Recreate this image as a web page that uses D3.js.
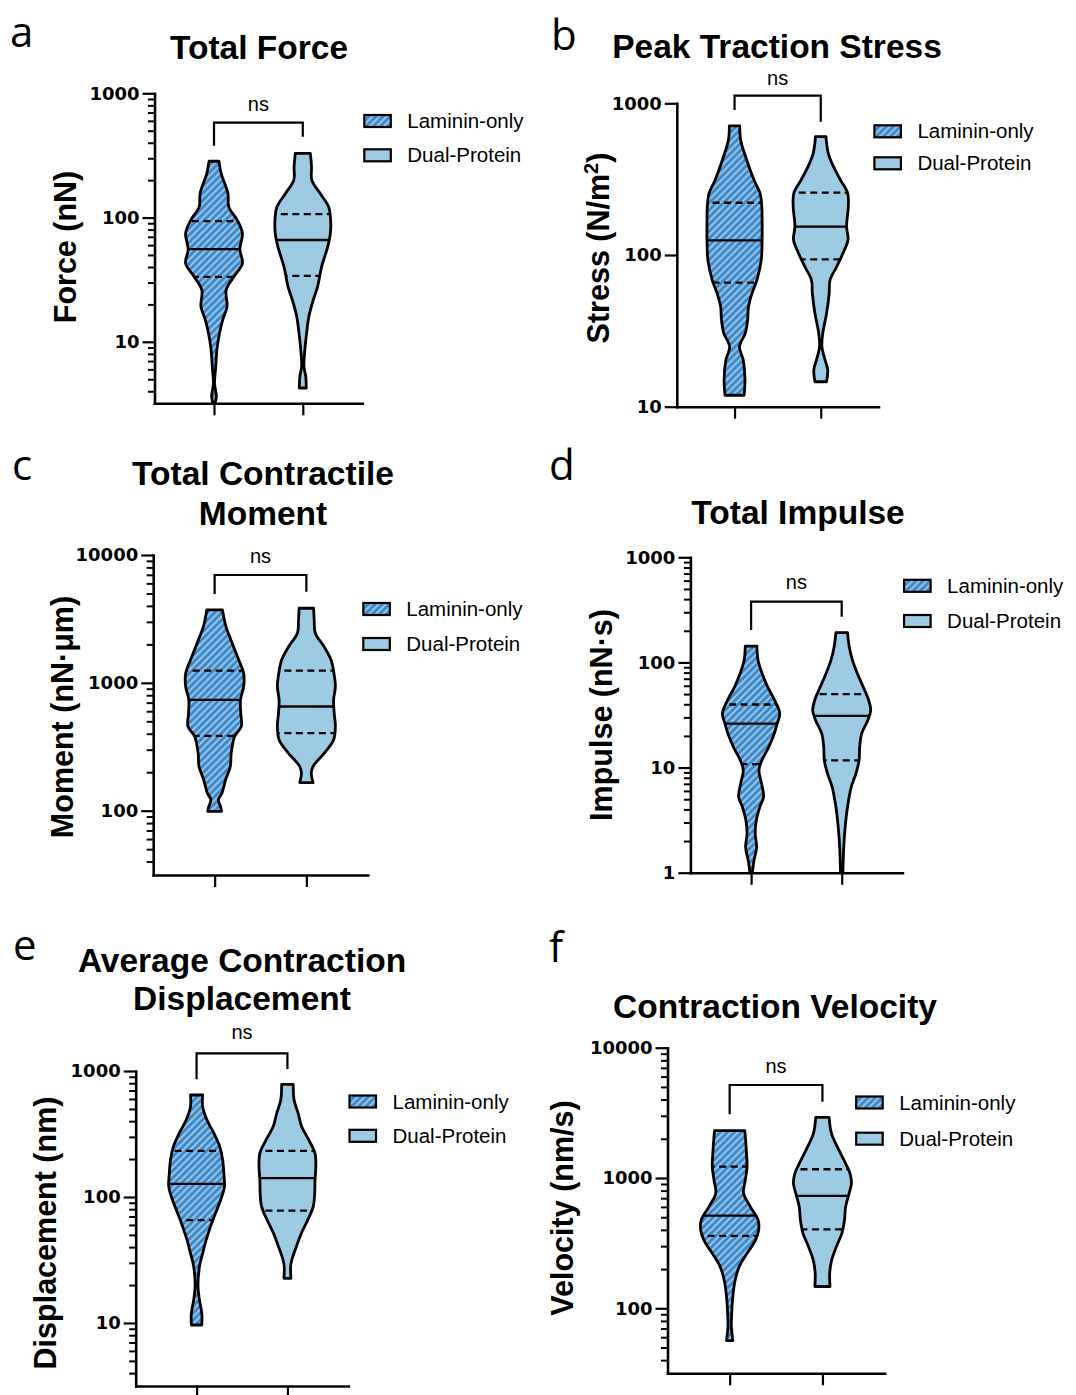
<!DOCTYPE html>
<meta charset="utf-8">
<script src="https://cdn.jsdelivr.net/npm/d3@7"></script>
<style>
  body { margin: 0; background: #fff; }
  .axis path, .axis line { stroke: #000; }
  .axis text { font-family: "DejaVu Sans", sans-serif; font-weight: bold; font-size: 18px; fill: #000; }
</style>
<body>
<script>

var groups = ["Laminin-only", "Dual-Protein"]

// violin outlines: [value, relative half-width]
var forceLam = [[284,.17],[226,.25],[156,.48],[122,.51],[95.5,.80],[74.6,.98],[55.5,.89],[42.9,.98],[33.5,.69],[26.2,.42],[19.2,.45],[15.0,.30],[11.7,.19],[8.6,.10],[6.3,.06],[4.66,.02],[3.64,.08],[3.21,.04]]
var forceDual = [[328,.26],[256,.30],[200,.31],[156,.60],[122,.89],[95.5,.96],[74.6,.95],[58.3,.86],[40.3,.65],[27.8,.51],[21.7,.36],[16.0,.21],[11.7,.13],[8.6,.07],[6.3,.04],[5.3,.10],[4.25,.12]]
var stressLam = [[709,.18],[573,.21],[423,.42],[312,.67],[255,.88],[208,.94],[170,.95],[126,.95],[92.7,.92],[68.4,.77],[55.8,.60],[45.6,.48],[37.2,.45],[30.5,.37],[24.9,.17],[20.3,.30],[15.0,.36],[11.9,.33]]
var stressDual = [[603,.18],[468,.26],[382,.44],[312,.68],[255,.93],[208,.95],[154,.89],[126,.94],[103,.77],[83.8,.55],[68.4,.32],[55.8,.29],[41.2,.20],[30.5,.07],[24.9,.04],[20.3,.15],[17.5,.24],[14.6,.20]]
var momentLam = [[3720,.27],[2754,.39],[2168,.56],[1513,.83],[1191,1],[936,1],[737,.89],[580,.90],[456,.92],[381,.69],[282,.57],[222,.54],[175,.38],[137,.25],[122,.13],[108,.20],[98.8,.24]]
var momentDual = [[3831,.25],[3104,.27],[2442,.31],[1922,.61],[1513,.85],[1191,.95],[936,1],[737,.94],[580,.96],[456,1],[359,.94],[282,.62],[222,.23],[197,.17],[166,.23]]
var impulseLam = [[143,.20],[105,.24],[78.5,.38],[58.6,.57],[43.8,.81],[32.7,.99],[26.2,.90],[21.1,.80],[15.7,.61],[11.7,.37],[9.44,.27],[7.05,.36],[5.26,.43],[4.22,.30],[3.15,.18],[2.35,.14],[1.75,.19],[1.31,.10],[1.0,.04]]
var impulseDual = [[192,.20],[141,.26],[105,.37],[78.5,.54],[58.6,.74],[43.8,.93],[35.1,1],[28.2,.90],[21.1,.69],[15.7,.62],[11.7,.60],[8.77,.49],[6.55,.33],[4.22,.20],[2.72,.12],[1.75,.07],[1.0,.04]]
var dispLam = [[645,.21],[521,.21],[408,.36],[320,.60],[251,.80],[197,.90],[154,.94],[121,.96],[94.6,.83],[74.1,.65],[58.2,.48],[45.6,.33],[35.7,.21],[28.0,.10],[19.4,.05],[15.2,.10],[11.9,.18],[9.64,.18]]
var dispDual = [[784,.20],[589,.23],[461,.37],[362,.49],[283,.74],[222,.95],[174,.98],[136,.95],[107,.94],[83.8,.89],[65.6,.70],[51.5,.48],[40.4,.31],[31.6,.15],[28.0,.11],[22.6,.12]]
var velLam = [[2307,.52],[1958,.55],[1547,.58],[1222,.60],[966,.54],[763,.48],[603,.71],[476,.98],[399,1],[334,.89],[264,.60],[209,.33],[165,.19],[130,.12],[91.6,.07],[72.3,.06],[56.5,.11]]
var velDual = [[2919,.23],[2201,.31],[1740,.51],[1374,.74],[1086,.95],[911,1],[763,.92],[603,.80],[476,.76],[376,.67],[297,.48],[235,.32],[186,.25],[147,.26]]

// quartiles: [Q1, median, Q3]
var forceQ = [[33.3, 55.8, 93.7], [33.9, 66, 106.7]]
var stressQ = [[65.8, 125, 221], [93.5, 154, 258]]
var momentQ = [[385, 737, 1247], [404, 653, 1247]]
var impulseQ = [[10.8, 26.2, 39.8], [11.7, 31.0, 49.9]]
var dispQ = [[65.6, 127, 232], [78, 141, 232]]
var velQ = [[359, 514, 1222], [404, 728, 1167]]

var panels = [
  {letter: "a", lx: 10, ly: 47, title: ["Total Force"], tx: 259, ty: [47], ylabel: "Force (nN)", yl: [65, 247],
   data: [forceLam, forceDual], q: forceQ, majors: [10, 100, 1000], minor: true,
   dom: [3.2, 1000], ry: [403.3, 93.3], ax: 154.5, ax2: 362.3,
   br: [122.7, 145.7, 136.7], ns: 105, leg: [364.3, 121, 155.3]},
  {letter: "b", lx: 551, ly: 50, title: ["Peak Traction Stress"], tx: 777, ty: [46], ylabel: "Stress (N/m", sup: "2", yl: [598, 248],
   data: [stressLam, stressDual], q: stressQ, majors: [10, 100, 1000], minor: false,
   dom: [10, 1000], ry: [406.7, 103.3], ax: 676.8, ax2: 878.5,
   br: [95.7, 110, 121.7], ns: 79, leg: [874.4, 131.3, 163.3]},
  {letter: "c", lx: 12, ly: 480, title: ["Total Contractile", "Moment"], tx: 263, ty: [473, 513], ylabel: "Moment (nN\u00b7\u03bcm)", yl: [62, 717],
   data: [momentLam, momentDual], q: momentQ, majors: [100, 1000, 10000], minor: true,
   dom: [31.4, 10000], ry: [875, 555], ax: 153.2, ax2: 367.8,
   br: [575, 594, 591.7], ns: 556.7, leg: [363.3, 609, 644]},
  {letter: "d", lx: 549, ly: 480, title: ["Total Impulse"], tx: 798, ty: [512], ylabel: "Impulse (nN\u00b7s)", yl: [601.5, 715],
   data: [impulseLam, impulseDual], q: impulseQ, majors: [1, 10, 100, 1000], minor: true,
   dom: [1, 1000], ry: [872.7, 557.3], ax: 690.4, ax2: 902.4,
   br: [601.7, 630, 616.7], ns: 582.7, leg: [904.1, 585.8, 621]},
  {letter: "e", lx: 13, ly: 960, title: ["Average Contraction", "Displacement"], tx: 242, ty: [960, 998], ylabel: "Displacement (nm)", yl: [45, 1233],
   data: [dispLam, dispDual], q: dispQ, majors: [10, 100, 1000], minor: true,
   dom: [3.16, 1000], ry: [1386, 1071], ax: 135.7, ax2: 348.3,
   br: [1053.3, 1079.3, 1069], ns: 1033, leg: [349.5, 1101.5, 1135.8]},
  {letter: "f", lx: 549, ly: 962, title: ["Contraction Velocity"], tx: 775, ty: [1006], ylabel: "Velocity (nm/s)", yl: [562, 1208],
   data: [velLam, velDual], q: velQ, majors: [100, 1000, 10000], minor: true,
   dom: [31.7, 10000], ry: [1373.3, 1047.7], ax: 667.5, ax2: 884.6,
   br: [1085, 1114.3, 1101.7], ns: 1066.7, leg: [856.2, 1102.5, 1138.7]}
]

var lamBase = "#3a86c8", lamStripe = "#a9d2ef", dualFill = "#9dcbe3"

var svg = d3.select("body").append("svg")
    .attr("width", 1076)
    .attr("height", 1395)
    .style("display", "block")

var defs = svg.append("defs")
var pat = defs.append("pattern").attr("id", "hatch")
    .attr("patternUnits", "userSpaceOnUse")
    .attr("width", 5).attr("height", 5)
    .attr("patternTransform", "rotate(45)")
pat.append("rect").attr("width", 5).attr("height", 5).attr("fill", lamBase)
pat.append("line").attr("x1", 2.5).attr("y1", 0).attr("x2", 2.5).attr("y2", 5)
    .attr("stroke", lamStripe).attr("stroke-width", 1.8)

var w = d3.scaleLinear().domain([0, 1]).range([0, 29])

panels.forEach(function(p) {
  var g = svg.append("g")
  var y = d3.scaleLog().domain(p.dom).range(p.ry)
  var x = d3.scalePoint().domain(groups).range([p.ax, p.ax2]).padding(0.67)

  // panel letter
  g.append("text").attr("x", p.lx).attr("y", p.ly)
    .style("font-family", "'Open Sans', sans-serif").style("font-size", "42px")
    .text(p.letter)

  // title
  g.selectAll(".title").data(p.title).join("text")
    .attr("x", p.tx).attr("y", function(d, i) { return p.ty[i] })
    .attr("dy", "0.35em").attr("text-anchor", "middle")
    .style("font-family", "'Liberation Sans', Arial, sans-serif").style("font-weight", "bold").style("font-size", "33.5px")
    .text(function(d) { return d })

  // y label
  var yl = g.append("text")
    .attr("transform", "translate(" + p.yl[0] + "," + p.yl[1] + ") rotate(-90)")
    .attr("dy", "0.35em").attr("text-anchor", "middle")
    .style("font-family", "'Liberation Sans', Arial, sans-serif").style("font-weight", "bold").style("font-size", "30.5px")
  yl.append("tspan").text(p.ylabel)
  if (p.sup) {
    yl.append("tspan").attr("baseline-shift", "super").style("font-size", "20px").text(p.sup)
    yl.append("tspan").text(")")
  }

  // violins
  p.data.forEach(function(prof, i) {
    var cx = x(groups[i])
    var area = d3.area()
        .y(function(d) { return y(d[0]) })
        .x0(function(d) { return cx - w(d[1]) })
        .x1(function(d) { return cx + w(d[1]) })
        .curve(d3.curveCatmullRom)
    var clipId = "clip-" + p.letter + i
    defs.append("clipPath").attr("id", clipId).append("path").attr("d", area(prof))
    g.append("path").attr("d", area(prof)).attr("fill", i == 0 ? "url(#hatch)" : dualFill)
    g.append("g").attr("clip-path", "url(#" + clipId + ")")
      .selectAll("line").data(p.q[i]).join("line")
      .attr("x1", cx - 45).attr("x2", cx + 45)
      .attr("y1", function(d) { return y(d) }).attr("y2", function(d) { return y(d) })
      .attr("stroke", "#000").attr("stroke-width", 2.3)
      .attr("stroke-dasharray", function(d, j) { return j == 1 ? null : "7,4.5" })
    g.append("path").attr("d", area(prof)).attr("fill", "none")
      .attr("stroke", "#000").attr("stroke-width", 2.8).attr("stroke-linejoin", "round")
  })

  // axes
  var yAxis = g.append("g").attr("class", "axis")
      .attr("transform", "translate(" + p.ax + ",0)")
      .call(d3.axisLeft(y).tickValues(p.majors).tickFormat(d3.format("d")).tickSize(12).tickSizeOuter(0).tickPadding(3))
  yAxis.select(".domain").attr("stroke-width", 2.6).attr("stroke-linecap", "square")
  yAxis.selectAll(".tick line").attr("stroke-width", 2.2)

  if (p.minor) {
    var minors = y.ticks().filter(function(v) {
      return Math.abs(Math.log10(v) - Math.round(Math.log10(v))) > 1e-6
    })
    var mAxis = g.append("g").attr("class", "axis")
        .attr("transform", "translate(" + p.ax + ",0)")
        .call(d3.axisLeft(y).tickValues(minors).tickFormat("").tickSize(6.5).tickSizeOuter(0))
    mAxis.select(".domain").remove()
    mAxis.selectAll(".tick line").attr("stroke-width", 2)
  }

  var xAxis = g.append("g").attr("class", "axis")
      .attr("transform", "translate(0," + p.ry[0] + ")")
      .call(d3.axisBottom(x).tickSize(12).tickSizeOuter(0).tickFormat(""))
  xAxis.select(".domain").attr("stroke-width", 2.6).attr("stroke-linecap", "square")
  xAxis.selectAll(".tick line").attr("stroke-width", 2.2)

  // significance bracket
  var x0 = x(groups[0]), x1 = x(groups[1])
  g.append("path")
    .attr("d", d3.line()([[x0, p.br[1]], [x0, p.br[0]], [x1, p.br[0]], [x1, p.br[2]]]))
    .attr("fill", "none").attr("stroke", "#000").attr("stroke-width", 2.2)
  g.append("text").attr("x", (x0 + x1) / 2).attr("y", p.ns).attr("dy", "0.3em")
    .attr("text-anchor", "middle")
    .style("font-family", "'Liberation Sans', Arial, sans-serif").style("font-size", "20px")
    .text("ns")

  // legend
  var leg = g.selectAll(".leg").data(groups).join("g")
    .attr("transform", function(d, i) { return "translate(" + p.leg[0] + "," + p.leg[i + 1] + ")" })
  leg.append("rect").attr("x", 0).attr("y", -6).attr("width", 26.5).attr("height", 12)
    .attr("fill", function(d, i) { return i == 0 ? "url(#hatch)" : dualFill })
    .attr("stroke", "#000").attr("stroke-width", 2.2)
  leg.append("text").attr("x", 43).attr("dy", "0.35em")
    .style("font-family", "'Liberation Sans', Arial, sans-serif").style("font-size", "20.5px")
    .text(function(d) { return d })
})

</script>
</body>
